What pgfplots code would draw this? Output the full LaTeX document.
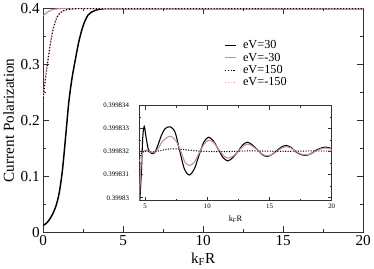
\documentclass[border=0pt]{standalone}
\usepackage{fontspec}
\setmainfont{Liberation Serif}
\usepackage{pgfplots}
\pgfplotsset{compat=1.18}
\definecolor{rosy}{RGB}{192,145,145}
\definecolor{pinkd}{RGB}{240,170,185}
\begin{document}
\begin{tikzpicture}
\begin{axis}[name=main, at={(0,0)}, anchor=south west, scale only axis,
  width=326pt, height=228pt,
  xmin=0, xmax=20, ymin=0, ymax=0.4,
  xtick={0,5,10,15,20}, xticklabels={0,5,10,15,20},
  minor xtick={2.5,7.5,12.5,17.5},
  ytick={0,0.1,0.2,0.3,0.4}, yticklabels={0,0.1,0.2,0.3,0.4},
  minor ytick={0.05,0.15,0.25,0.35},
  tick align=inside, major tick length=6pt, minor tick length=3pt,
  axis line style={line width=0.8pt, black!80},
  every tick/.style={black!80, line width=0.8pt},
  tick label style={font=\fontsize{15.5}{15.5}\selectfont},
  xlabel={k\textsubscript{F}R}, ylabel={Current Polarization},
  label style={font=\fontsize{15.5}{15.5}\selectfont},
  legend style={at={(0.555,0.875)}, anchor=north west, draw=none, fill=none,
    font=\fontsize{12.5}{12.5}\selectfont, row sep=-1.2pt},
  legend cell align=left,
  legend image code/.code={\draw[#1] (0pt,0pt) -- (12pt,0pt); \path (16pt,0pt);},
]
\addplot[black, line width=1.5pt, smooth] coordinates {
(0,0.012) (0.2,0.016) (0.4,0.023) (0.6,0.033) (0.8,0.047) (1.0,0.07)
(1.2,0.11) (1.4,0.17) (1.6,0.232) (1.8,0.275) (2.0,0.307) (2.2,0.337)
(2.4,0.36) (2.6,0.377) (2.8,0.388) (3.0,0.393) (3.3,0.397) (3.7,0.3993)
(4.2,0.3997) (5,0.39983) (20,0.39983)};
\addlegendentry{eV=30}
\addplot[rosy, line width=1.2pt, smooth] coordinates {
(0,0.387) (0.15,0.391) (0.3,0.394) (0.5,0.397) (0.7,0.3985) (1.0,0.3995)
(1.5,0.3998) (3,0.39983) (20,0.39983)};
\addlegendentry{eV=-30}
\addplot[black, line width=1.2pt, dash pattern=on 1.2pt off 1.8pt, smooth] coordinates {
(0,0.24) (0.1,0.265) (0.2,0.287) (0.3,0.307) (0.4,0.327) (0.5,0.345)
(0.6,0.36) (0.7,0.371) (0.8,0.38) (0.9,0.386) (1.0,0.39) (1.2,0.395)
(1.5,0.398) (2.0,0.3995) (3,0.3998) (20,0.39983)};
\addlegendentry{eV=150}
\addplot[pinkd, line width=1.2pt, dash pattern=on 1.2pt off 1.8pt, smooth] coordinates {
(0,0.243) (0.1,0.267) (0.2,0.29) (0.3,0.31) (0.4,0.329) (0.5,0.347)
(0.6,0.361) (0.7,0.372) (0.8,0.381) (0.9,0.387) (1.0,0.39) (1.2,0.395)
(1.5,0.398) (2.0,0.3995) (3,0.3998) (20,0.39983)};
\addlegendentry{eV=-150}
\end{axis}
\begin{axis}[at={(98pt,32pt)}, anchor=south west, scale only axis,
  width=196pt, height=97pt,
  xmin=4.53, xmax=20, ymin=-0.13, ymax=4,
  axis background/.style={fill=white},
  xtick={5,10,15,20}, xticklabels={5,10,15,20},
  minor xtick={7.5,12.5,17.5},
  ytick={0,1,2,3,4},
  yticklabels={0.39983,0.399831,0.399832,0.399833,0.399834},
  minor ytick={0.5,1.5,2.5,3.5},
  tick align=inside, major tick length=4pt, minor tick length=2pt,
  axis line style={line width=0.7pt, black!80},
  every tick/.style={black!80, line width=0.7pt},
  tick label style={font=\fontsize{7}{7}\selectfont},
  yticklabel style={xshift=-7pt},
  xlabel={k\textsubscript{F}R},
  xlabel style={font=\fontsize{8.5}{8.5}\selectfont},
  clip=true,
]
\addplot[black, line width=1.1pt, smooth] coordinates {
(4.55,-0.3) (4.7,1.2) (4.8,2.6) (4.92,3.1) (5.05,2.7) (5.25,2.1) (5.5,1.93)
(5.75,1.95) (6.0,2.25) (6.3,2.7) (6.6,3.0) (7.0,3.08) (7.4,2.85) (7.77,2.05)
(8.15,1.25) (8.55,0.99) (8.95,1.25) (9.3,1.8) (9.7,2.4) (10.1,2.63) (10.5,2.45)
(10.88,2.1) (11.25,1.75) (11.65,1.6) (12.05,1.75) (12.45,2.0) (12.85,2.3)
(13.23,2.41) (13.6,2.3) (14.0,2.1) (14.4,1.88) (14.8,1.79) (15.2,1.88)
(15.55,2.03) (15.95,2.2) (16.34,2.27) (16.75,2.18) (17.1,2.0) (17.5,1.88)
(17.9,1.84) (18.3,1.9) (18.7,2.05) (19.1,2.15) (19.45,2.2) (19.8,2.17) (20,2.12)};
\addplot[rosy, line width=1.1pt, smooth] coordinates {
(4.52,-0.3) (4.6,0.8) (4.7,1.7) (4.85,2.0) (5.1,2.07) (5.4,1.98) (5.7,1.96)
(6.0,2.1) (6.4,2.45) (7.0,2.67) (7.5,2.45) (7.9,1.95) (8.2,1.55) (8.55,1.4)
(8.95,1.55) (9.35,1.95) (9.7,2.3) (10.1,2.5) (10.5,2.4) (10.9,2.1) (11.3,1.83)
(11.65,1.72) (12.05,1.8) (12.45,2.0) (12.85,2.22) (13.23,2.33) (13.6,2.25)
(14.0,2.08) (14.4,1.9) (14.8,1.82) (15.2,1.88) (15.55,2.0) (15.95,2.15)
(16.34,2.22) (16.75,2.15) (17.1,2.02) (17.5,1.9) (17.9,1.86) (18.3,1.9)
(18.7,2.02) (19.1,2.12) (19.5,2.16) (19.8,2.14) (20,2.1)};
\addplot[pinkd, line width=1.0pt, dash pattern=on 1pt off 1.6pt, smooth] coordinates {
(4.53,1.6) (4.7,1.95) (5.0,2.02) (5.5,2.0) (6.0,2.03) (6.5,2.08) (7.0,2.12)
(7.5,2.12) (8.0,2.1) (8.5,2.07) (9.0,2.05) (10,2.02) (11,2.01) (12,2.02)
(13,2.04) (14,2.04) (15,2.03) (16,2.02) (17,2.03) (18,2.04) (19,2.04) (20,2.04)};
\addplot[black, line width=1.0pt, dash pattern=on 1pt off 1.6pt, smooth] coordinates {
(4.55,1.7) (4.7,1.95) (5.0,2.02) (5.5,1.99) (6.0,2.02) (6.5,2.08) (7.0,2.12)
(7.5,2.12) (8.0,2.1) (8.5,2.07) (9.0,2.04) (10,2.01) (11,2.0) (12,2.01)
(13,2.03) (14,2.03) (15,2.02) (16,2.01) (17,2.02) (18,2.03) (19,2.03) (20,2.03)};
\end{axis}
\end{tikzpicture}
\end{document}
